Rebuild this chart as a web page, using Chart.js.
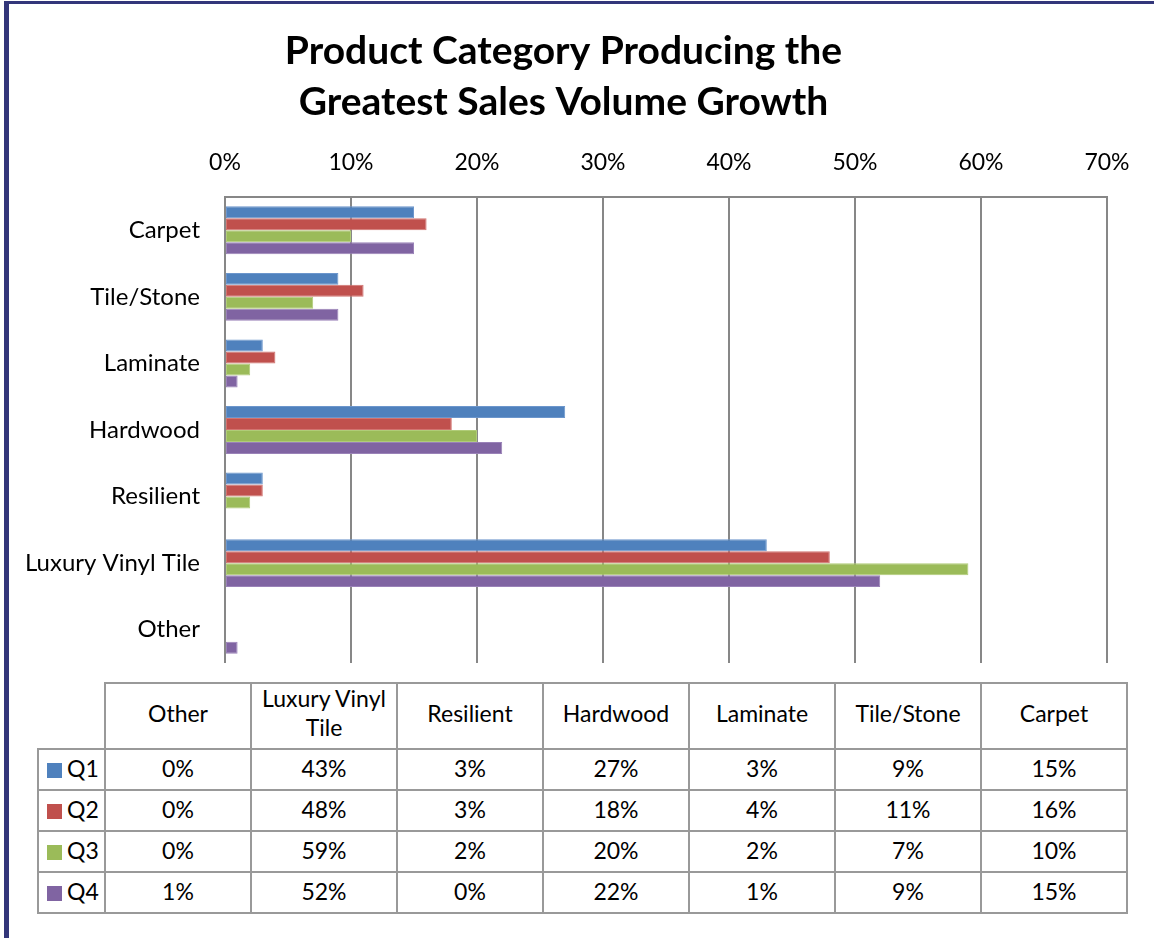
<!DOCTYPE html>
<html>
<head>
<meta charset="utf-8">
<script src="https://cdn.jsdelivr.net/npm/chart.js@4"></script>
<style>
  html, body { margin: 0; padding: 0; background: #fff; }
  #wrap { position: relative; width: 1154px; height: 938px; overflow: hidden; font-family: Lato, "Noto Sans", sans-serif; }
  #frameLeft { position: absolute; left: 4px; top: 1px; width: 5px; height: 937px; background: #33367a; }
  #frameTop { position: absolute; left: 4px; top: 1px; width: 1150px; height: 3px; background: #33367a; }
  #chartBox { position: absolute; left: 0; top: 0; }
  #dataTable { position: absolute; left: 37px; top: 682px; border-collapse: collapse; font-size: 23px; color: #000; }
  #dataTable td, #dataTable th { border: 2px solid #999; text-align: center; font-weight: normal; padding: 0; }
  #dataTable th { height: 57px; width: 144px; padding-bottom: 6px; }
  #dataTable td { height: 35px; padding-bottom: 4px; }
  #dataTable th.corner { border: none; width: 66px; }
  #dataTable th.lvt { vertical-align: top; padding-top: 0; line-height: 29px; }
  #dataTable td.key { text-align: left; padding-left: 8px; }
  .sw { display: inline-block; width: 15px; height: 15px; margin-right: 5px; vertical-align: -1px; }
</style>
</head>
<body>
<div id="wrap">
  <div id="chartBox"><canvas id="salesChart" width="1154" height="680"></canvas></div>
  <table id="dataTable"><thead><tr id="headRow"></tr></thead><tbody id="tableBody"></tbody></table>
  <div id="frameLeft"></div>
  <div id="frameTop"></div>
</div>
<script>
// chart order, top to bottom
const categories = ['Carpet', 'Tile/Stone', 'Laminate', 'Hardwood', 'Resilient', 'Luxury Vinyl Tile', 'Other'];
const seriesNames = ['Q1', 'Q2', 'Q3', 'Q4'];
const q1 = [15, 9, 3, 27, 3, 43, 0];
const q2 = [16, 11, 4, 18, 3, 48, 0];
const q3 = [10, 7, 2, 20, 2, 59, 0];
const q4 = [15, 9, 1, 22, 0, 52, 1];
const tickValues = [0, 10, 20, 30, 40, 50, 60, 70];
const colors = ['#4f81bd', '#c0504d', '#9bbb59', '#8064a2'];
const borders = ['#6c96cc', '#d27470', '#b0cc78', '#9a82b8'];

const allSeries = [q1, q2, q3, q4];
const fontFamily = 'Lato, "Noto Sans", sans-serif';

// data table below the chart (reverse category order, as in the original)
const headRow = document.getElementById('headRow');
const tableBody = document.getElementById('tableBody');
headRow.innerHTML = '<th class="corner"></th>';
const tableOrder = categories.map((c, i) => i).reverse();
tableOrder.forEach(i => {
    const th = document.createElement('th');
    if (categories[i] === 'Luxury Vinyl Tile') {
        th.className = 'lvt';
        th.innerHTML = 'Luxury Vinyl<br>Tile';
    } else {
        th.textContent = categories[i];
    }
    headRow.appendChild(th);
});
seriesNames.forEach((name, s) => {
    const row = document.createElement('tr');
    let html = `<td class="key"><span class="sw" style="background:${colors[s]}"></span>${name}</td>`;
    tableOrder.forEach(i => {
        html += `<td>${allSeries[s][i]}%</td>`;
    });
    row.innerHTML = html;
    tableBody.appendChild(row);
});

const ctx = document.getElementById('salesChart').getContext('2d');
const salesChart = new Chart(ctx, {
    type: 'bar',
    data: {
        labels: categories,
        datasets: seriesNames.map((name, s) => ({
            label: name,
            data: allSeries[s],
            backgroundColor: colors[s],
            borderColor: borders[s],
            borderWidth: 1,
            borderSkipped: false,
            barPercentage: 1.0,
            categoryPercentage: 0.72
        }))
    },
    options: {
        indexAxis: 'y',
        responsive: false,
        animation: false,
        layout: { padding: { left: 20, right: 47, top: 0, bottom: 17 } },
        plugins: {
            legend: { display: false },
            tooltip: { enabled: false },
            title: {
                display: true,
                text: ['Product Category Producing the', 'Greatest Sales Volume Growth'],
                color: '#000',
                font: { family: fontFamily, size: 39, weight: 'bold', lineHeight: 1.3 },
                padding: { top: 26, bottom: 0 }
            }
        },
        scales: {
            x: {
                position: 'top',
                min: 0,
                max: 70,
                afterBuildTicks: scale => {
                    scale.ticks = tickValues.map(v => ({ value: v }));
                },
                ticks: {
                    color: '#000',
                    font: { family: fontFamily, size: 23 },
                    padding: 21,
                    callback: v => v + '%'
                },
                grid: { color: '#878787', lineWidth: 2, drawTicks: false },
                border: { display: true, color: '#878787', width: 2 }
            },
            y: {
                afterFit: scale => { scale.width = 205; },
                ticks: {
                    color: '#000',
                    font: { family: fontFamily, size: 24 },
                    padding: 0
                },
                grid: { display: false, drawTicks: true, tickLength: 25 },
                border: { display: false }
            }
        }
    }
});
</script>
</body>
</html>
